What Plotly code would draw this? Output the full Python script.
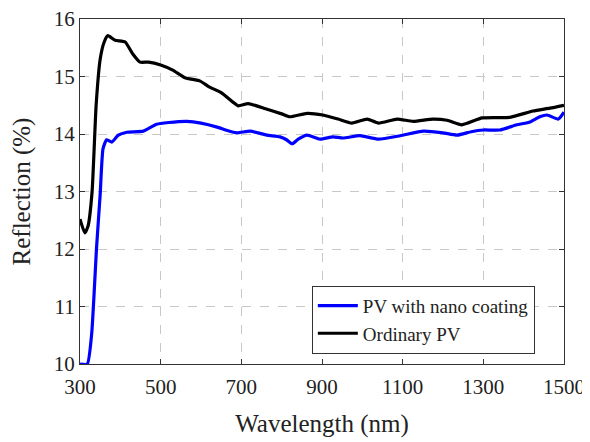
import plotly.graph_objects as go

# Blue: PV with nano coating
nano_x = [300, 318, 329, 341, 350, 357, 366, 379, 395, 416, 457, 490, 520, 565, 600, 640, 665, 689, 722,
          763, 796, 812, 826, 841, 863, 895, 927, 952, 994, 1040, 1094, 1152, 1200, 1235, 1270, 1300, 1341,
          1383, 1416, 1440, 1458, 1486, 1500]
nano_y = [10.0, 10.0, 10.53, 12.02, 12.95, 13.74, 13.9, 13.86, 13.98, 14.03, 14.05, 14.17, 14.2, 14.22, 14.19,
          14.12, 14.06, 14.02, 14.05, 13.98, 13.95, 13.9, 13.83, 13.91, 13.98, 13.91, 13.95, 13.93, 13.97, 13.91,
          13.97, 14.05, 14.02, 13.98, 14.04, 14.07, 14.07, 14.16, 14.21, 14.3, 14.33, 14.26, 14.38]

# Black: Ordinary PV
ord_x = [300, 312, 320, 330, 340, 350, 360, 369, 387, 412, 430, 449, 470, 500, 530, 560, 598, 620, 650, 680,
         692, 717, 760, 800, 820, 863, 902, 940, 974, 1012, 1040, 1086, 1126, 1175, 1210, 1247, 1297, 1366,
         1423, 1465, 1500]
ord_y = [12.52, 12.28, 12.4, 13.0, 14.5, 15.3, 15.6, 15.71, 15.63, 15.6, 15.4, 15.25, 15.25, 15.2, 15.11,
         14.98, 14.92, 14.82, 14.72, 14.55, 14.49, 14.53, 14.44, 14.35, 14.3, 14.36, 14.33, 14.26, 14.19, 14.26,
         14.19, 14.26, 14.22, 14.26, 14.24, 14.16, 14.28, 14.29, 14.4, 14.45, 14.5]

x_ticks = [300, 500, 700, 900, 1100, 1300, 1500]
y_ticks = [10, 11, 12, 13, 14, 15, 16]

font = "Liberation Serif"

fig = go.Figure()
fig.add_trace(go.Scatter(x=nano_x, y=nano_y, mode="lines", name="PV with nano coating",
                         line=dict(color="#0000ff", width=3.2, shape="spline", smoothing=0.5)))
fig.add_trace(go.Scatter(x=ord_x, y=ord_y, mode="lines", name="Ordinary PV",
                         line=dict(color="#000000", width=3.2, shape="spline", smoothing=0.5)))

axis_common = dict(showline=True, linecolor="#333333", linewidth=1, mirror="ticks",
                   ticks="inside", ticklen=5, tickcolor="#333333", automargin=False,
                   ticklabeloverflow="allow",
                   showgrid=True, gridcolor="#c8c8c8", griddash="dash", gridwidth=1,
                   zeroline=False, tickfont=dict(family=font, size=21, color="#222222"))

fig.update_xaxes(range=[300, 1500], tickvals=x_ticks, ticktext=[str(v) for v in x_ticks],
                 ticklabelstandoff=4,
                 title=dict(text="Wavelength (nm)", font=dict(family=font, size=25, color="#222222"),
                            standoff=16),
                 **axis_common)
fig.update_yaxes(range=[10, 16], tickvals=y_ticks, ticktext=[str(v) for v in y_ticks],
                 title=dict(text="Reflection (%)", font=dict(family=font, size=25, color="#222222"),
                            standoff=16),
                 **axis_common)

fig.update_layout(
    width=582, height=434,
    margin=dict(l=72, r=26, t=11, b=78),
    paper_bgcolor="white", plot_bgcolor="white",
    font=dict(family=font),
    showlegend=True,
    legend=dict(x=0.479, y=0.227, xanchor="left", yanchor="top",
                bgcolor="white", bordercolor="#333333", borderwidth=1,
                font=dict(family=font, size=19, color="#222222"),
                itemwidth=40, tracegroupgap=0),
)

fig.write_html("out.html")
